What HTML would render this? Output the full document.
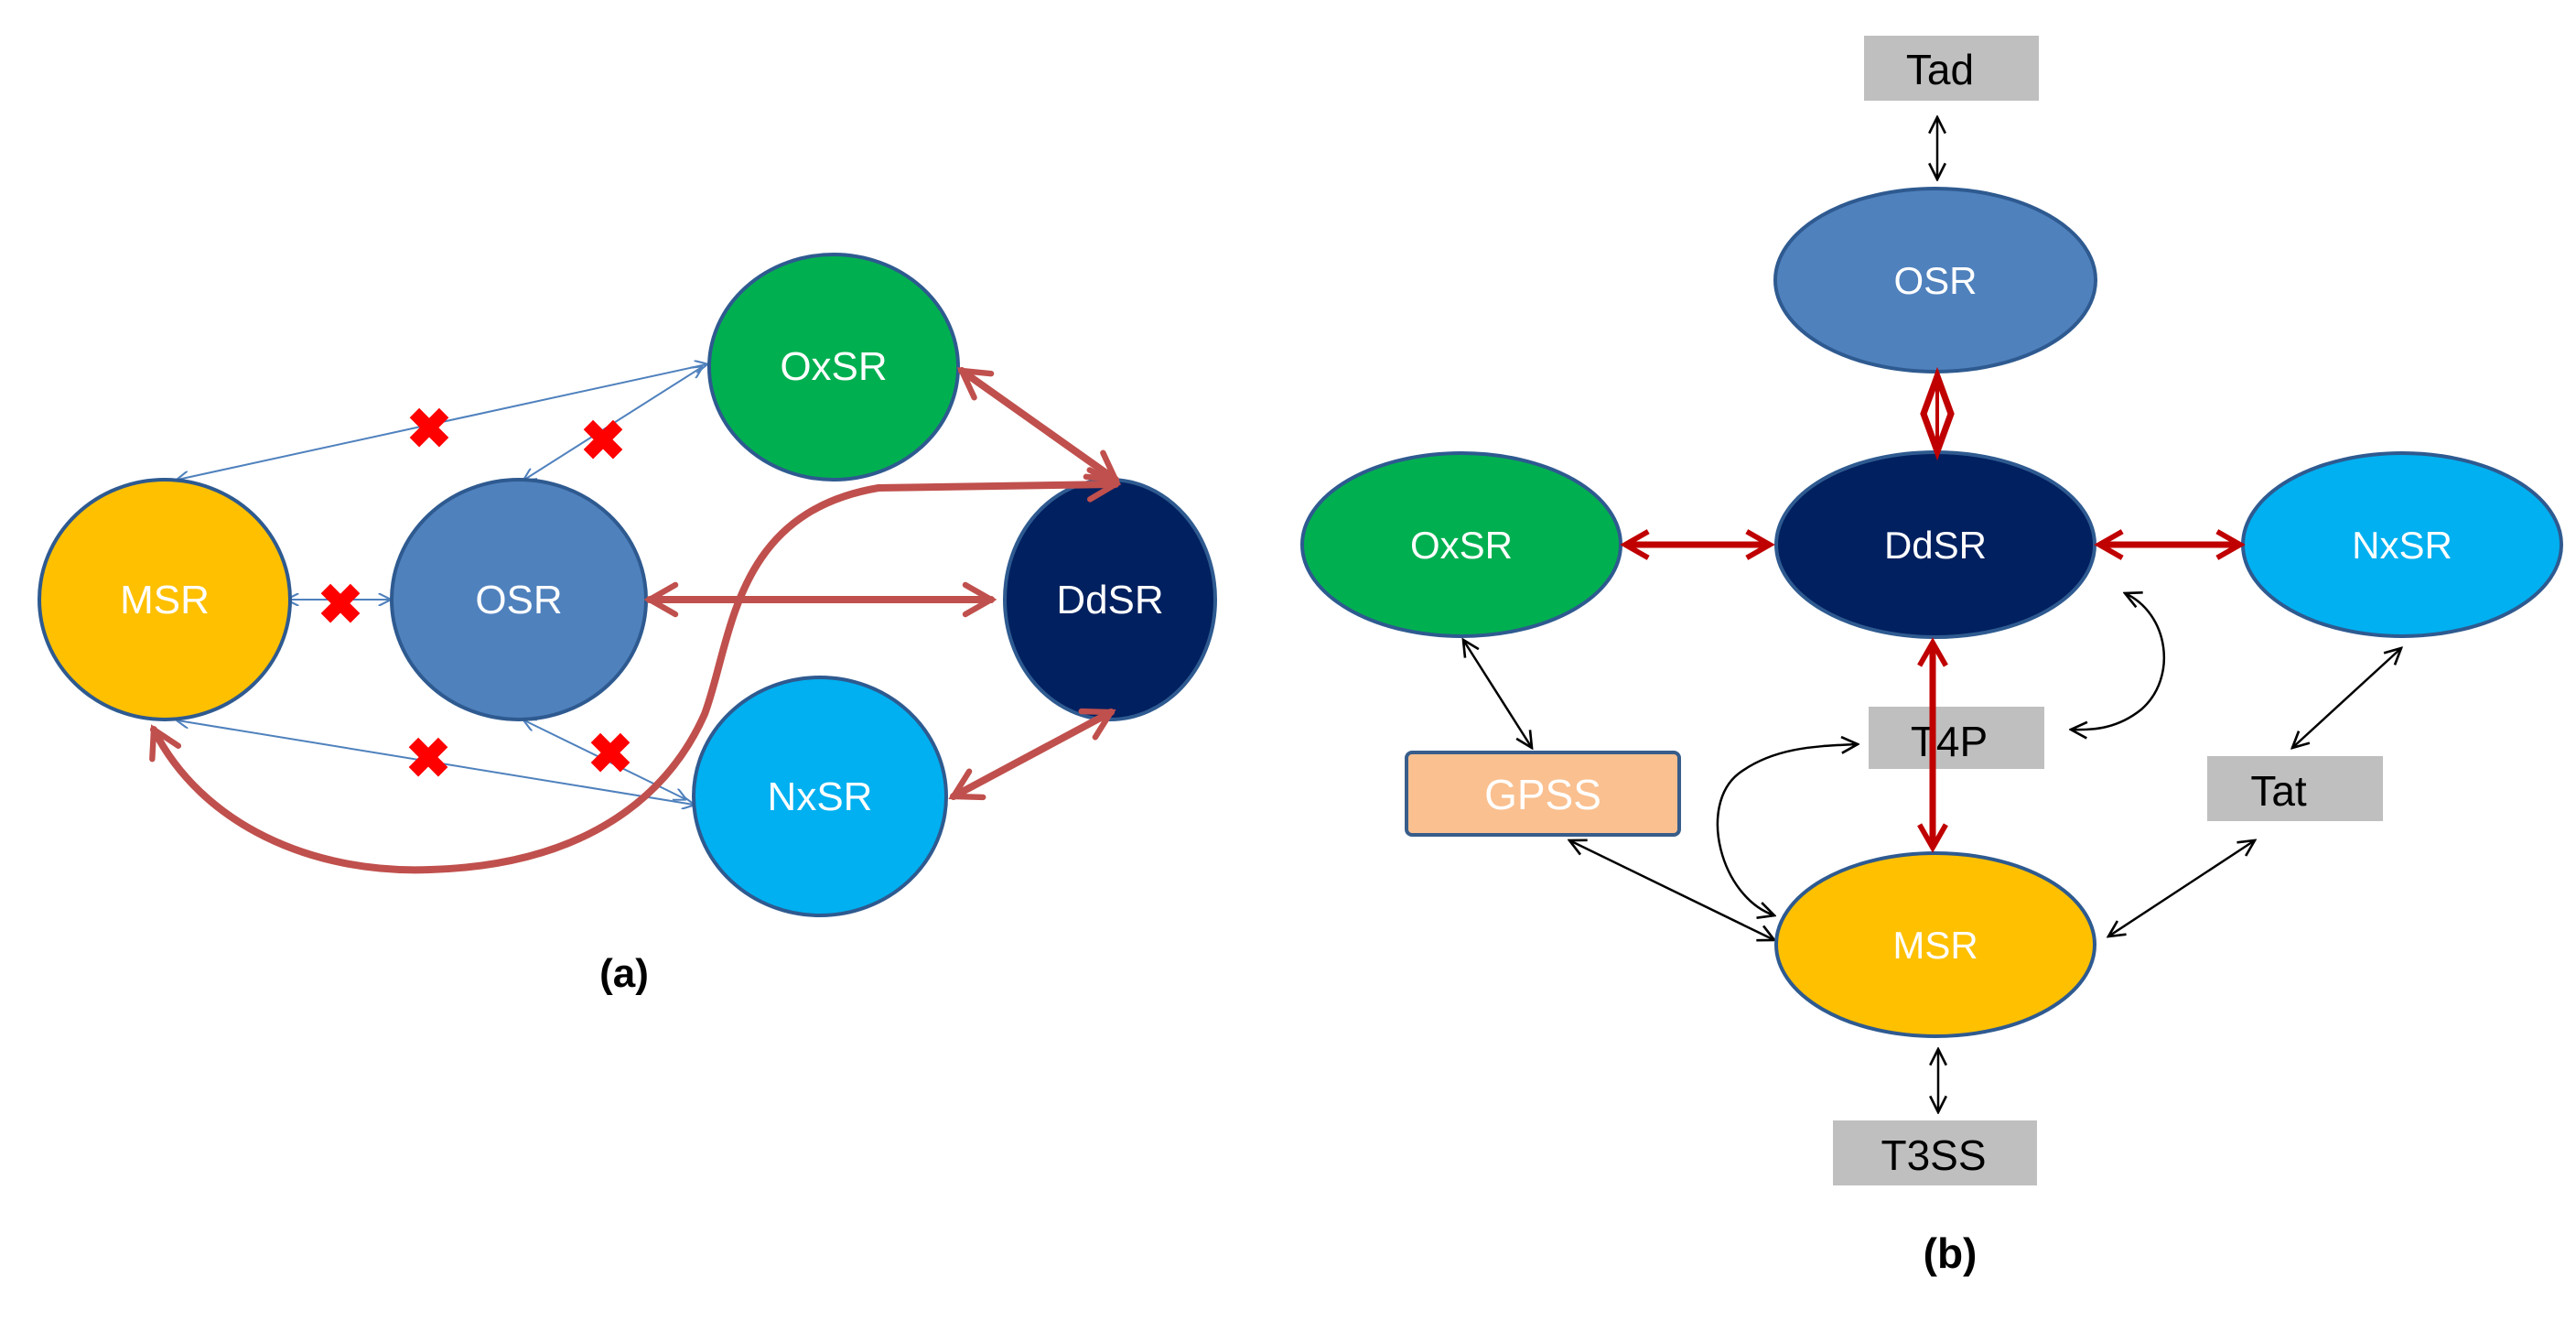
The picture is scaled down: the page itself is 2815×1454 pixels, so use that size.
<!DOCTYPE html>
<html><head><meta charset="utf-8"><style>
html,body{margin:0;padding:0;background:#fff}
svg{display:block}
text{font-family:"Liberation Sans",sans-serif}
</style></head><body>
<svg width="2815" height="1454" viewBox="0 0 2815 1454" xmlns="http://www.w3.org/2000/svg">
<defs>
<marker id="bl" viewBox="0 0 10 10" refX="9" refY="5" markerWidth="14" markerHeight="14" markerUnits="userSpaceOnUse" orient="auto-start-reverse"><path d="M0,0 L10,5 L0,10" fill="none" stroke="#4f81bd" stroke-width="1.5"/></marker>
<marker id="rd" viewBox="0 0 10 10" refX="8" refY="5" markerWidth="40" markerHeight="40" markerUnits="userSpaceOnUse" orient="auto-start-reverse"><path d="M1,1 L8,5 L1,9" fill="none" stroke="#c0504d" stroke-width="1.6" stroke-linecap="round"/></marker>
<marker id="dr" viewBox="0 0 10 10" refX="8" refY="5" markerWidth="36" markerHeight="36" markerUnits="userSpaceOnUse" orient="auto-start-reverse"><path d="M1,1 L8,5 L1,9" fill="none" stroke="#c00000" stroke-width="1.6"/></marker>
<marker id="bk" viewBox="0 0 10 10" refX="9" refY="5" markerWidth="22" markerHeight="22" markerUnits="userSpaceOnUse" orient="auto-start-reverse"><path d="M1,1 L9,5 L1,9" fill="none" stroke="#000" stroke-width="1.2"/></marker>
</defs>

<!-- (a) thin blue lines -->
<g stroke="#4f81bd" stroke-width="2" fill="none">
<line x1="194" y1="524" x2="772" y2="398" marker-start="url(#bl)" marker-end="url(#bl)"/>
<line x1="573" y1="524" x2="767" y2="401" marker-start="url(#bl)" marker-end="url(#bl)"/>
<line x1="314" y1="655" x2="426" y2="655" marker-start="url(#bl)" marker-end="url(#bl)"/>
<line x1="194" y1="787" x2="758" y2="879" marker-start="url(#bl)" marker-end="url(#bl)"/>
<line x1="573" y1="787" x2="749" y2="873" marker-start="url(#bl)" marker-end="url(#bl)"/>
</g>

<!-- (a) nodes -->
<g stroke="#2e5a90" stroke-width="4">
<ellipse cx="180" cy="655" rx="137" ry="131" fill="#ffc000"/>
<ellipse cx="567" cy="655" rx="139" ry="131" fill="#4f81bd"/>
<ellipse cx="911" cy="401" rx="136" ry="123" fill="#00b050"/>
<ellipse cx="1213" cy="655" rx="115" ry="131" fill="#002060"/>
<ellipse cx="896" cy="870" rx="138" ry="130" fill="#00b0f0"/>
</g>
<g fill="#fff" font-size="44" text-anchor="middle">
<text x="180" y="670">MSR</text>
<text x="567" y="670">OSR</text>
<text x="911" y="415">OxSR</text>
<text x="1213" y="670">DdSR</text>
<text x="896" y="885">NxSR</text>
</g>

<!-- (a) red thick arrows -->
<g stroke="#c0504d" stroke-width="8" fill="none" stroke-linecap="round">
<line x1="1051" y1="405" x2="1219" y2="524" marker-start="url(#rd)" marker-end="url(#rd)"/>
<line x1="710" y1="655" x2="1083" y2="655" marker-start="url(#rd)" marker-end="url(#rd)"/>
<line x1="1042" y1="870" x2="1214" y2="778" marker-start="url(#rd)" marker-end="url(#rd)"/>
<path d="M168,797 C220,900 340,955 470,950 C640,945 730,870 770,780 C800,700 800,560 960,533 L1219,529" marker-start="url(#rd)" marker-end="url(#rd)"/>
</g>

<!-- red X marks -->
<g fill="#ff0000" font-size="60" font-weight="bold" text-anchor="middle">
<text x="469" y="489">✖</text>
<text x="659" y="502">✖</text>
<text x="372" y="681">✖</text>
<text x="468" y="849">✖</text>
<text x="667" y="844">✖</text>
</g>
<text x="682" y="1078" font-size="44" font-weight="bold" text-anchor="middle">(a)</text>

<!-- (b) boxes -->
<rect x="2037" y="39" width="191" height="71" fill="#bfbfbf"/>
<text x="2120" y="92" font-size="46" text-anchor="middle">Tad</text>
<rect x="2042" y="772" width="192" height="68" fill="#bfbfbf"/>
<rect x="2412" y="826" width="192" height="71" fill="#bfbfbf"/>
<text x="2490" y="880" font-size="46" text-anchor="middle">Tat</text>
<rect x="2003" y="1224" width="223" height="71" fill="#bfbfbf"/>
<text x="2113" y="1278" font-size="46" text-anchor="middle">T3SS</text>
<rect x="1537" y="822" width="298" height="90" rx="6" fill="#fac090" stroke="#385d8a" stroke-width="4"/>
<text x="1686" y="884" font-size="46" fill="#fff" text-anchor="middle">GPSS</text>

<!-- (b) black arrows -->
<g stroke="#000" stroke-width="2.5" fill="none">
<line x1="2117" y1="128" x2="2117" y2="196" marker-start="url(#bk)" marker-end="url(#bk)"/>
<line x1="2118" y1="1146" x2="2118" y2="1215" marker-start="url(#bk)" marker-end="url(#bk)"/>
<line x1="1599" y1="699" x2="1674" y2="817" marker-start="url(#bk)" marker-end="url(#bk)"/>
<line x1="1715" y1="918" x2="1939" y2="1027" marker-start="url(#bk)" marker-end="url(#bk)"/>
<line x1="2624" y1="708" x2="2505" y2="817" marker-start="url(#bk)" marker-end="url(#bk)"/>
<line x1="2464" y1="918" x2="2304" y2="1023" marker-start="url(#bk)" marker-end="url(#bk)"/>
<path d="M1939,1000 C1880,980 1855,880 1900,845 C1940,815 1990,815 2030,813" marker-start="url(#bk)" marker-end="url(#bk)"/>
<path d="M2322,648 C2370,670 2380,740 2340,775 C2315,795 2290,798 2263,797" marker-start="url(#bk)" marker-end="url(#bk)"/>
</g>

<!-- (b) nodes -->
<g stroke="#2e5a90" stroke-width="4">
<ellipse cx="2115" cy="306" rx="175" ry="100" fill="#4f81bd"/>
<ellipse cx="2115" cy="595" rx="174" ry="101" fill="#002060"/>
<ellipse cx="1597" cy="595" rx="174" ry="100" fill="#00b050"/>
<ellipse cx="2625" cy="595" rx="174" ry="100" fill="#00b0f0"/>
<ellipse cx="2115" cy="1032" rx="174" ry="100" fill="#ffc000"/>
</g>
<g fill="#fff" font-size="42" text-anchor="middle">
<text x="2115" y="321">OSR</text>
<text x="2115" y="610">DdSR</text>
<text x="1597" y="610">OxSR</text>
<text x="2625" y="610">NxSR</text>
<text x="2115" y="1047">MSR</text>
</g>
<text x="2130" y="826" font-size="46" text-anchor="middle">T4P</text>

<!-- (b) red arrows -->
<g stroke="#c00000" stroke-width="7" fill="none">
<line x1="1776" y1="595" x2="1934" y2="595" marker-start="url(#dr)" marker-end="url(#dr)"/>
<line x1="2294" y1="595" x2="2448" y2="595" marker-start="url(#dr)" marker-end="url(#dr)"/>
<line x1="2112" y1="702" x2="2112" y2="926" marker-start="url(#dr)" marker-end="url(#dr)"/>
<path d="M2117,411 L2132,452 L2117,493 L2102,452 Z"/>
<line x1="2117" y1="420" x2="2117" y2="485" stroke-width="4"/>
</g>
<text x="2131" y="1385" font-size="46" font-weight="bold" text-anchor="middle">(b)</text>
</svg>
</body></html>
